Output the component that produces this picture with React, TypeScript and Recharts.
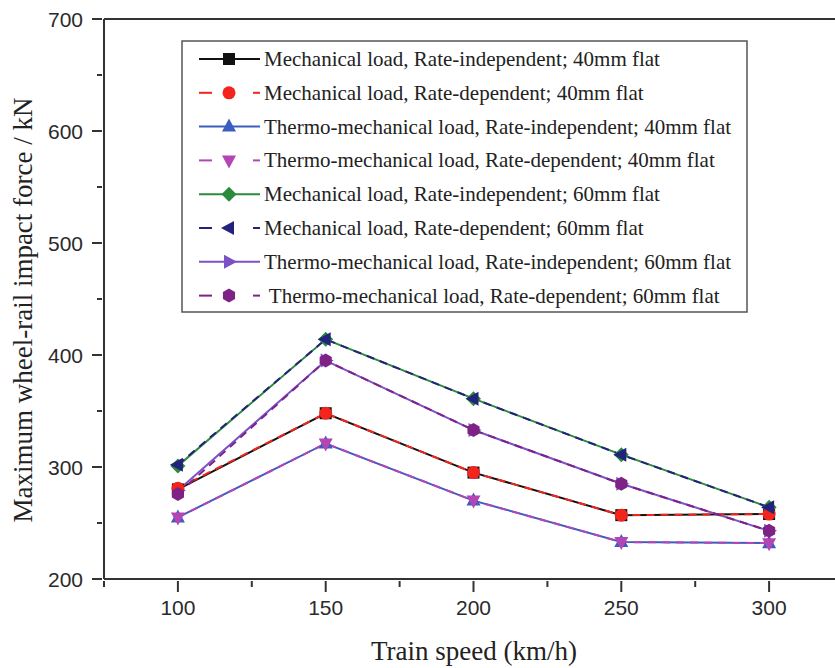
import { Customized, Line, LineChart, XAxis, YAxis } from 'recharts'

// train speed (km/h)
const speeds = [100, 150, 200, 250, 300]

// maximum wheel-rail impact force (kN)
const mechIndep40 = [280, 348, 295, 257, 258]
const mechDep40 = [281, 348, 295, 257, 258]
const thermoIndep40 = [255, 321, 270, 233, 232]
const thermoDep40 = [255, 321, 270, 233, 232]
const mechIndep60 = [301, 414, 361, 311, 264]
const mechDep60 = [302, 414, 361, 311, 264]
const thermoIndep60 = [279, 395, 333, 285, 243]
const thermoDep60 = [276, 395, 333, 285, 243]

const xTicks = [75, 100, 125, 150, 175, 200, 225, 250, 275, 300]
const yTicks = [200, 250, 300, 350, 400, 450, 500, 550, 600, 650, 700]

type Shape = 'square' | 'circle' | 'up' | 'down' | 'diamond' | 'left' | 'right' | 'hexagon'

interface Series {
  key: string
  name: string
  values: number[]
  color: string
  shape: Shape
  dashed: boolean
}

const series: Series[] = [
  { key: 'mi40', name: 'Mechanical load, Rate-independent; 40mm flat', values: mechIndep40, color: '#111111', shape: 'square', dashed: false },
  { key: 'md40', name: 'Mechanical load, Rate-dependent; 40mm flat', values: mechDep40, color: '#f2241c', shape: 'circle', dashed: true },
  { key: 'ti40', name: 'Thermo-mechanical load, Rate-independent; 40mm flat', values: thermoIndep40, color: '#3d5cc0', shape: 'up', dashed: false },
  { key: 'td40', name: 'Thermo-mechanical load, Rate-dependent; 40mm flat', values: thermoDep40, color: '#b445b4', shape: 'down', dashed: true },
  { key: 'mi60', name: 'Mechanical load, Rate-independent; 60mm flat', values: mechIndep60, color: '#2b8a3c', shape: 'diamond', dashed: false },
  { key: 'md60', name: 'Mechanical load, Rate-dependent; 60mm flat', values: mechDep60, color: '#23237e', shape: 'left', dashed: true },
  { key: 'ti60', name: 'Thermo-mechanical load, Rate-independent; 60mm flat', values: thermoIndep60, color: '#7a52c6', shape: 'right', dashed: false },
  { key: 'td60', name: ' Thermo-mechanical load, Rate-dependent; 60mm flat', values: thermoDep60, color: '#7e2285', shape: 'hexagon', dashed: true },
]

const data = speeds.map((speed, i) => {
  const row: Record<string, number> = { speed }
  series.forEach((s) => {
    row[s.key] = s.values[i]
  })
  return row
})

const SERIF = '"Liberation Serif", "Times New Roman", serif'
const SANS = '"Liberation Sans", Arial, sans-serif'
const AXIS = '#333333'

function Marker({ shape, cx, cy, color }: { shape: Shape; cx: number; cy: number; color: string }) {
  const p = (pts: number[][]) => pts.map(([x, y]) => `${cx + x},${cy + y}`).join(' ')
  switch (shape) {
    case 'square':
      return <rect x={cx - 6} y={cy - 6} width={12} height={12} fill={color} />
    case 'circle':
      return <circle cx={cx} cy={cy} r={6.5} fill={color} />
    case 'up':
      return <polygon points={p([[0, -8], [7, 5], [-7, 5]])} fill={color} />
    case 'down':
      return <polygon points={p([[0, 8], [7, -5], [-7, -5]])} fill={color} />
    case 'diamond':
      return <polygon points={p([[0, -7.5], [7.5, 0], [0, 7.5], [-7.5, 0]])} fill={color} />
    case 'left':
      return <polygon points={p([[-8, 0], [5, -7], [5, 7]])} fill={color} />
    case 'right':
      return <polygon points={p([[8, 0], [-5, -7], [-5, 7]])} fill={color} />
    case 'hexagon': {
      const pts = [0, 1, 2, 3, 4, 5].map((k) => {
        const a = (Math.PI / 3) * k + Math.PI / 6
        return [7 * Math.cos(a), 7 * Math.sin(a)]
      })
      return <polygon points={p(pts)} fill={color} />
    }
  }
}

function XTick(props: any) {
  const { x, y, payload } = props
  const major = payload.value % 50 === 0
  return (
    <g>
      <line x1={x} y1={y} x2={x} y2={y + (major ? 11 : 6)} stroke={AXIS} strokeWidth={2} />
      {major && (
        <text x={x} y={y + 34} textAnchor="middle" fontFamily={SANS} fontSize={21} fill="#2a2a2a">
          {payload.value}
        </text>
      )}
    </g>
  )
}

function YTick(props: any) {
  const { x, y, payload } = props
  const major = payload.value % 100 === 0
  return (
    <g>
      <line x1={x} y1={y} x2={x - (major ? 10 : 5)} y2={y} stroke={AXIS} strokeWidth={2} />
      {major && (
        <text x={x - 19} y={y + 7.5} textAnchor="end" fontFamily={SANS} fontSize={21} fill="#2a2a2a">
          {payload.value}
        </text>
      )}
    </g>
  )
}

function LegendBox() {
  const left = 182
  const top = 41
  return (
    <g>
      <rect x={left} y={top} width={565} height={271} fill="#fff" stroke="#555" strokeWidth={1.5} />
      {series.map((s, i) => {
        const cy = 59 + i * 33.8
        return (
          <g key={s.key}>
            {s.dashed ? (
              <>
                <line x1={199} y1={cy} x2={212} y2={cy} stroke={s.color} strokeWidth={2} />
                <line x1={253} y1={cy} x2={260} y2={cy} stroke={s.color} strokeWidth={2} />
              </>
            ) : (
              <line x1={199} y1={cy} x2={260} y2={cy} stroke={s.color} strokeWidth={2} />
            )}
            <Marker shape={s.shape} cx={229} cy={cy} color={s.color} />
            <text x={264} y={cy + 7} fontFamily={SERIF} fontSize={21} fill="#222" style={{ whiteSpace: 'pre' }}>
              {s.name}
            </text>
          </g>
        )
      })}
    </g>
  )
}

function AxisTitles() {
  return (
    <g fontFamily={SERIF} fill="#222" fontSize={27}>
      <text x={474} y={660} textAnchor="middle">
        Train speed (km/h)
      </text>
      <text x={32} y={310} textAnchor="middle" transform="rotate(-90 32 310)">
        Maximum wheel-rail impact force / kN
      </text>
    </g>
  )
}

// solid lines first, dashed ones drawn over them
const drawOrder = [...series.filter((s) => !s.dashed), ...series.filter((s) => s.dashed)]

export default function App() {
  return (
    <div style={{ position: 'fixed', left: 0, top: 0, width: 835, height: 668, overflow: 'hidden', background: '#fff' }}>
      <LineChart width={850} height={668} data={data} margin={{ top: 18, right: 7, bottom: 88, left: 103 }}>
        <XAxis
          xAxisId="x"
          dataKey="speed"
          type="number"
          domain={[75, 325]}
          ticks={xTicks}
          interval={0}
          height={1}
          tickSize={0}
          tickLine={false}
          axisLine={{ stroke: AXIS, strokeWidth: 2 }}
          tick={<XTick />}
        />
        <XAxis
          xAxisId="top"
          orientation="top"
          dataKey="speed"
          type="number"
          domain={[75, 325]}
          ticks={[100]}
          height={1}
          tick={false}
          tickLine={false}
          axisLine={{ stroke: AXIS, strokeWidth: 2 }}
        />
        <YAxis
          yAxisId="y"
          type="number"
          domain={[200, 700]}
          ticks={yTicks}
          interval={0}
          width={1}
          tickSize={0}
          tickLine={false}
          axisLine={{ stroke: AXIS, strokeWidth: 2 }}
          tick={<YTick />}
        />
        {drawOrder.map((s) => (
          <Line
            key={s.key}
            xAxisId="x"
            yAxisId="y"
            type="linear"
            dataKey={s.key}
            stroke={s.color}
            strokeWidth={2}
            strokeDasharray={s.dashed ? '8 6' : undefined}
            isAnimationActive={false}
            dot={(props: any) => (
              <Marker key={`${s.key}-${props.index}`} shape={s.shape} cx={props.cx} cy={props.cy} color={s.color} />
            )}
            activeDot={false}
          />
        ))}
        <Customized component={LegendBox} />
        <Customized component={AxisTitles} />
      </LineChart>
    </div>
  )
}
